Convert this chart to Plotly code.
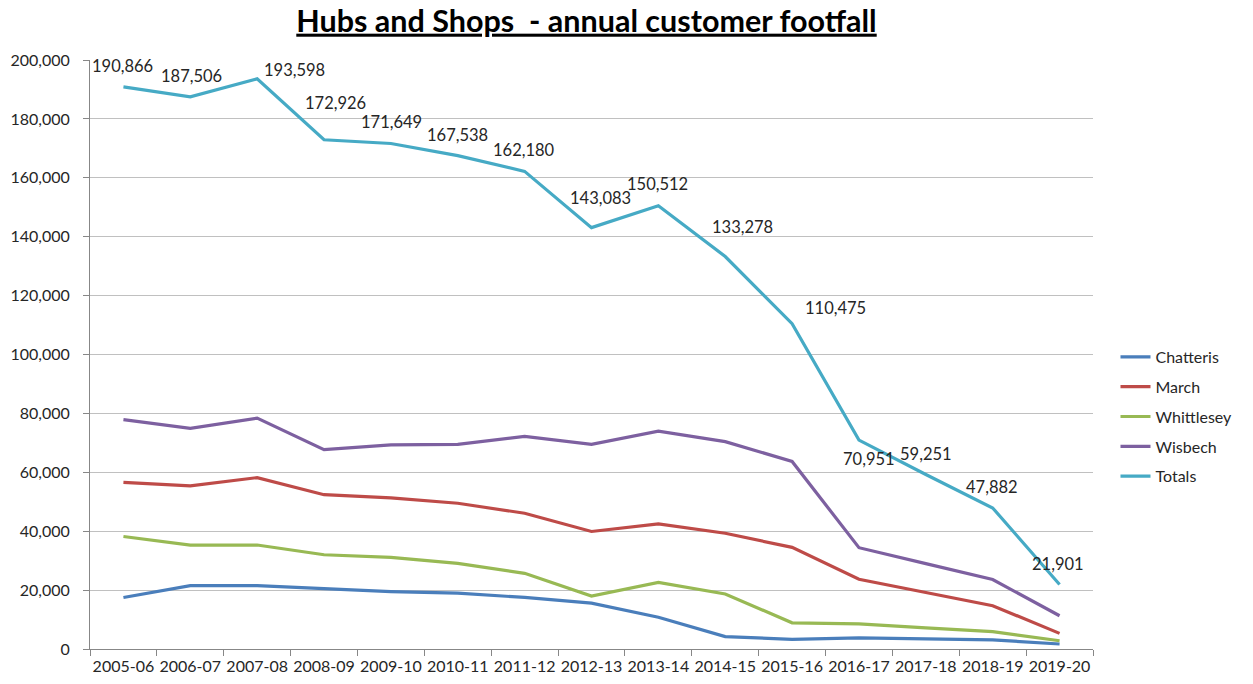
import plotly.graph_objects as go

categories = ["2005-06", "2006-07", "2007-08", "2008-09", "2009-10", "2010-11", "2011-12",
              "2012-13", "2013-14", "2014-15", "2015-16", "2016-17", "2017-18", "2018-19", "2019-20"]
chatteris = [17500, 21500, 21500, 20400, 19500, 19000, 17500, 15600, 10800, 4200, 3300, 3800, 3500, 3100, 1700]
march = [56600, 55400, 58200, 52400, 51300, 49500, 46100, 39900, 42500, 39300, 34500, 23700, 19200, 14700, 5300]
whittlesey = [38200, 35300, 35300, 32000, 31100, 29100, 25700, 18000, 22600, 18700, 8900, 8500, 7200, 5900, 2800]
wisbech = [77900, 74900, 78400, 67700, 69300, 69500, 72200, 69500, 74000, 70400, 63700, 34400, 29000, 23600, 11300]
totals = [190866, 187506, 193598, 172926, 171649, 167538, 162180, 143083, 150512, 133278, 110475,
          70951, 59251, 47882, 21901]
y_ticks = [0, 20000, 40000, 60000, 80000, 100000, 120000, 140000, 160000, 180000, 200000]

series = [
    ("Chatteris", chatteris, "#4A7EBB"),
    ("March", march, "#BE4B48"),
    ("Whittlesey", whittlesey, "#98B954"),
    ("Wisbech", wisbech, "#7D60A0"),
    ("Totals", totals, "#46AAC5"),
]

# pixel offsets of the Totals data labels relative to their points (styling only)
label_dx = [-1, 1, 37, 11, 1, 0, -1, 9, -1, 17, 43, 10, 0, -1, -2]
label_dy = [21, 21, 9, 37, 21, 21, 21, 30, 22, 30, 16, -19, 21, 21, 21]

FONT = "Lato, 'Open Sans', sans-serif"
TXT = "#262626"

fig = go.Figure()
for name, vals, col in series:
    fig.add_trace(go.Scatter(
        x=categories, y=vals, name=name, mode="lines",
        line=dict(color=col, width=3.2), legendgroup=name,
    ))

for i, (c, v) in enumerate(zip(categories, totals)):
    fig.add_annotation(x=c, y=v, text=f"{v:,}", showarrow=False,
                       xshift=label_dx[i], yshift=label_dy[i],
                       font=dict(family=FONT, size=16.5, color=TXT))

fig.update_layout(
    width=1253, height=684,
    margin=dict(l=90, r=160, t=60, b=35, autoexpand=False),
    paper_bgcolor="white", plot_bgcolor="white",
    font=dict(family=FONT, size=16, color=TXT),
    title=dict(text="<b><u>Hubs and Shops  - annual customer footfall</u></b>",
               font=dict(family=FONT, size=30.5, color="#000000"),
               xref="container", yref="container", x=586.5 / 1253, xanchor="center",
               y=1 - 21 / 684, yanchor="middle"),
    showlegend=True,
    legend=dict(x=(1116 - 90) / 1003.5, xanchor="left", y=(649 - 340) / 589, yanchor="top",
                bgcolor="rgba(0,0,0,0)", font=dict(family=FONT, size=16, color=TXT),
                tracegroupgap=6, itemwidth=30),
    hovermode=False,
)
fig.update_xaxes(
    type="category", categoryorder="array", categoryarray=categories,
    range=[-0.5, len(categories) - 0.5],
    showgrid=False, showline=True, linecolor="#878787", linewidth=1,
    ticks="outside", tickson="boundaries", ticklen=6, tickcolor="#878787",
    tickangle=0, ticklabelstandoff=3,
    tickfont=dict(family=FONT, size=16, color=TXT), zeroline=False,
)
fig.update_yaxes(
    range=[0, 200000], tickvals=y_ticks, tickformat=",d",
    showgrid=True, gridcolor="#C0C0C0", gridwidth=1,
    showline=True, linecolor="#878787", linewidth=1,
    ticks="outside", ticklen=6, tickcolor="#878787", ticklabelstandoff=10,
    tickfont=dict(family=FONT, size=16, color=TXT), zeroline=False,
)

fig.write_html("out.html")
